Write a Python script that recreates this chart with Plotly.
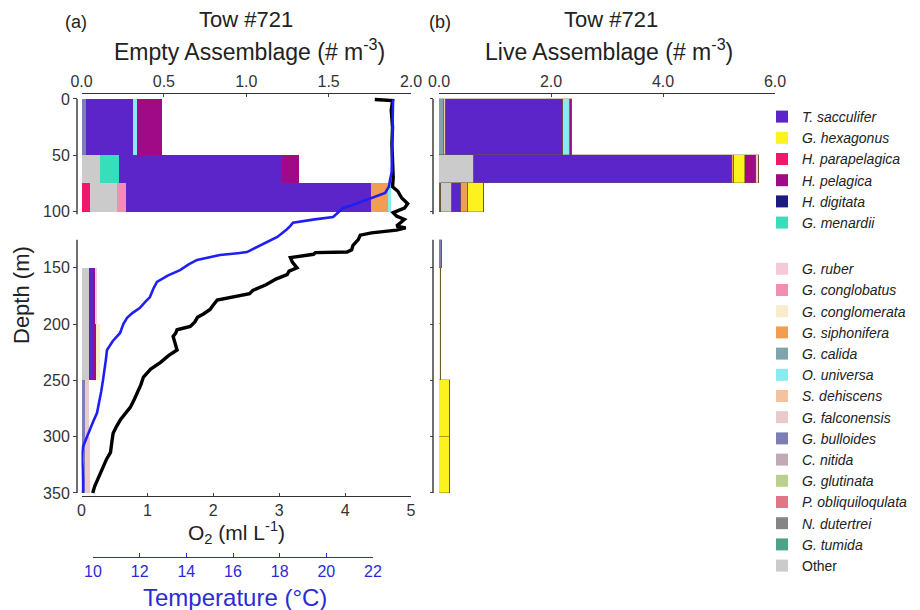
import plotly.graph_objects as go

W, H = 920, 610
OFF = 8  # page offset of the figure inside the browser window
FONT = "Liberation Sans, Arial, sans-serif"


def px(x):
    return (x - OFF) / W


def py(y):
    return 1 - (y - OFF) / H


# ---------------- data ----------------
# depth intervals (m): 0-50, 50-75, 75-100, 125-150, 150-200, 200-250, 250-300, 300-350
depth_mid = [25, 62.5, 87.5, 137.5, 175, 225, 275, 325]
depth_thick = [50, 25, 25, 25, 50, 50, 50, 50]
depth_ticks = [0, 50, 100, 150, 200, 250, 300, 350]

# stacking order (left to right within each bar)
species = ["H. parapelagica", "G. bulloides", "G. calida", "S. dehiscens", "Other",
           "G. menardii", "G. conglobatus", "T. sacculifer", "G. siphonifera",
           "O. universa", "G. hexagonus", "H. pelagica", "G. ruber", "G. conglomerata",
           "G. falconensis", "H. digitata", "C. nitida", "G. glutinata",
           "P. obliquiloqulata", "N. dutertrei", "G. tumida"]

colors = {
    "T. sacculifer": "#5b25c9", "G. hexagonus": "#fbf21e", "H. parapelagica": "#f3176b",
    "H. pelagica": "#a00a86", "H. digitata": "#1c1c7e", "G. menardii": "#36dfb9",
    "G. ruber": "#f6c9d9", "G. conglobatus": "#f28db3", "G. conglomerata": "#f8ecca",
    "G. siphonifera": "#f29d52", "G. calida": "#7fa4ad", "O. universa": "#86ecf2",
    "S. dehiscens": "#f4c29d", "G. falconensis": "#e9caca", "G. bulloides": "#7b7fb6",
    "C. nitida": "#c2a9b6", "G. glutinata": "#bccf8e", "P. obliquiloqulata": "#e07585",
    "N. dutertrei": "#858585", "G. tumida": "#50a189", "Other": "#cbcbcb",
}

legend_group1 = ["T. sacculifer", "G. hexagonus", "H. parapelagica", "H. pelagica",
                 "H. digitata", "G. menardii"]
legend_group2 = ["G. ruber", "G. conglobatus", "G. conglomerata", "G. siphonifera",
                 "G. calida", "O. universa", "S. dehiscens", "G. falconensis",
                 "G. bulloides", "C. nitida", "G. glutinata", "P. obliquiloqulata",
                 "N. dutertrei", "G. tumida", "Other"]

# Empty assemblage (# m-3), per interval
empty_h_parapelagica = [0, 0, 0.05, 0, 0, 0, 0, 0]
empty_g_bulloides = [0.025, 0, 0, 0, 0, 0, 0.02, 0.02]
empty_other = [0, 0.111, 0.162, 0, 0.045, 0.045, 0, 0]
empty_g_menardii = [0, 0.111, 0, 0, 0, 0, 0, 0]
empty_g_conglobatus = [0, 0, 0.055, 0, 0, 0, 0, 0]
empty_t_sacculifer = [0.285, 0.99, 1.49, 0, 0.02, 0.02, 0, 0]
empty_g_siphonifera = [0, 0, 0.10, 0, 0, 0, 0, 0]
empty_o_universa = [0.026, 0, 0.02, 0, 0, 0, 0, 0]
empty_h_pelagica = [0.148, 0.107, 0, 0, 0.017, 0.017, 0, 0]
empty_g_ruber = [0, 0, 0, 0, 0.008, 0, 0, 0]
empty_g_conglomerata = [0, 0, 0, 0, 0, 0.028, 0, 0]
empty_g_falconensis = [0, 0, 0, 0, 0, 0, 0.02, 0.03]

# Live assemblage (# m-3), per interval
live_h_parapelagica = [0, 0, 0.04, 0, 0, 0, 0, 0]
live_g_bulloides = [0, 0, 0, 0.05, 0, 0, 0, 0]
live_g_calida = [0.09, 0, 0, 0, 0, 0, 0, 0]
live_s_dehiscens = [0.04, 0, 0, 0, 0, 0, 0, 0]
live_other = [0, 0.63, 0.2, 0, 0, 0, 0, 0]
live_t_sacculifer = [2.08, 4.60, 0.16, 0, 0, 0, 0, 0]
live_g_siphonifera = [0, 0.03, 0.11, 0, 0, 0, 0, 0]
live_o_universa = [0.13, 0, 0, 0, 0, 0, 0, 0]
live_g_hexagonus = [0, 0.2, 0.3, 0, 0, 0, 0.2, 0.2]
live_h_pelagica = [0.035, 0.2, 0, 0, 0, 0, 0, 0]
live_g_ruber = [0, 0.055, 0, 0, 0, 0, 0, 0]
live_g_conglomerata = [0, 0, 0, 0, 0.03, 0.03, 0, 0]

zeros = [0] * len(depth_mid)
empty_values = {
    "H. parapelagica": empty_h_parapelagica, "G. bulloides": empty_g_bulloides,
    "Other": empty_other, "G. menardii": empty_g_menardii,
    "G. conglobatus": empty_g_conglobatus, "T. sacculifer": empty_t_sacculifer,
    "G. siphonifera": empty_g_siphonifera, "O. universa": empty_o_universa,
    "H. pelagica": empty_h_pelagica, "G. ruber": empty_g_ruber,
    "G. conglomerata": empty_g_conglomerata, "G. falconensis": empty_g_falconensis,
}
live_values = {
    "H. parapelagica": live_h_parapelagica, "G. bulloides": live_g_bulloides,
    "G. calida": live_g_calida, "S. dehiscens": live_s_dehiscens, "Other": live_other,
    "T. sacculifer": live_t_sacculifer, "G. siphonifera": live_g_siphonifera,
    "O. universa": live_o_universa, "G. hexagonus": live_g_hexagonus,
    "H. pelagica": live_h_pelagica, "G. ruber": live_g_ruber,
    "G. conglomerata": live_g_conglomerata,
}

# Oxygen profile (ml L-1)
o2_depth = [0.5, 1.5, 10, 25, 40, 55, 70, 78, 82, 88, 93, 97, 101, 104, 107, 110, 113,
            114.5, 116.5, 119, 121, 125, 130, 134, 136, 136.5, 138, 141, 145, 150, 153,
            156, 160, 165, 170, 173, 176, 178.6, 183, 187, 191, 194, 198, 202, 205, 208,
            211, 216, 223, 228, 234, 240, 247, 254, 261, 267, 274, 280, 285, 291, 297,
            305, 314, 320, 327, 333, 338, 344, 350]
o2_value = [4.45, 4.72, 4.70, 4.72, 4.71, 4.72, 4.73, 4.72, 4.80, 4.86, 4.95, 4.90, 4.73,
            4.78, 4.90, 4.84, 4.78, 4.92, 4.78, 4.40, 4.23, 4.20, 4.12, 4.10, 4.03, 3.55,
            3.52, 3.17, 3.20, 3.27, 3.15, 3.12, 2.95, 2.80, 2.60, 2.55, 2.30, 2.06, 2.00,
            1.95, 1.85, 1.76, 1.72, 1.65, 1.45, 1.43, 1.39, 1.42, 1.45, 1.32, 1.20, 1.05,
            0.94, 0.90, 0.85, 0.80, 0.74, 0.66, 0.59, 0.53, 0.48, 0.46, 0.44, 0.38, 0.33,
            0.28, 0.24, 0.20, 0.17]

# Temperature profile (deg C)
temp_depth = [0.5, 10, 30, 50, 65, 72, 78, 83.5, 86, 88, 90, 92.4, 94.5, 96.8, 100, 104.8,
              107, 110, 113, 116, 122.6, 128, 133, 136, 137, 138.6, 141, 143, 147, 152,
              157, 162.6, 168, 176, 180, 185.7, 190, 194.5, 200, 207.9, 215, 223, 232,
              241, 249.6, 260, 270, 279, 287, 294, 302, 309, 315, 321, 327, 332, 340, 347,
              350]
temp_value = [22.86, 22.85, 22.84, 22.83, 22.80, 22.73, 22.68, 22.52, 22.2, 22.0, 21.7,
              21.44, 21.1, 20.72, 20.55, 20.29, 19.5, 18.57, 18.45, 18.3, 17.9, 17.4, 16.9,
              16.6, 16.2, 15.44, 14.9, 14.46, 14.1, 13.73, 13.2, 12.74, 12.6, 12.44, 12.25,
              12.0, 11.7, 11.46, 11.3, 11.16, 10.85, 10.6, 10.55, 10.5, 10.43, 10.35, 10.25,
              10.17, 10.0, 9.87, 9.7, 9.57, 9.53, 9.52, 9.55, 9.57, 9.57, 9.57, 9.56]

empty_ticks = [0, 0.5, 1.0, 1.5, 2.0]
live_ticks = [0, 2, 4, 6]
o2_ticks = [0, 1, 2, 3, 4, 5]
temp_ticks = [10, 12, 14, 16, 18, 20, 22]

# ---------------- figure ----------------
fig = go.Figure()

rank = {}
for i, s in enumerate(legend_group1):
    rank[s] = 1 + i
for i, s in enumerate(legend_group2):
    rank[s] = 20 + i

for s in species:
    grp = "g1" if s in legend_group1 else "g2"
    label = s if s == "Other" else "<i>" + s + "</i>"
    fig.add_trace(go.Bar(
        y=depth_mid, x=empty_values.get(s, zeros), width=depth_thick, orientation="h",
        name=label, legendgroup=grp, legendrank=rank[s], showlegend=True,
        marker=dict(color=colors[s], line=dict(width=0)),
        xaxis="x", yaxis="y", hoverinfo="skip"))
    fig.add_trace(go.Bar(
        y=depth_mid, x=live_values.get(s, zeros), width=depth_thick, orientation="h",
        name=label, legendgroup=grp, legendrank=rank[s], showlegend=False,
        marker=dict(color=colors[s], line=dict(width=0.5, color="rgba(110,90,40,0.7)")),
        xaxis="x4", yaxis="y2", hoverinfo="skip"))

fig.add_trace(go.Scatter(x=o2_value, y=o2_depth, mode="lines",
                         line=dict(color="black", width=3.4), showlegend=False,
                         xaxis="x2", yaxis="y", hoverinfo="skip"))
fig.add_trace(go.Scatter(x=temp_value, y=temp_depth, mode="lines",
                         line=dict(color="#1f1ff5", width=2.6), showlegend=False,
                         xaxis="x3", yaxis="y", hoverinfo="skip"))
# carrier for the separate temperature scale
fig.add_trace(go.Scatter(x=temp_ticks, y=[None] * len(temp_ticks), mode="markers",
                         showlegend=False, xaxis="x5", yaxis="y", hoverinfo="skip"))

A_L, A_R = 81.5, 411
B_L, B_R = 439, 775
TOP, BOT = 94, 496
y_range = [352.7, -4.4]
T_L, T_R = 93, 373
t_per_px = (22 - 10) / (T_R - T_L)
temp_range = [10 - (T_L - A_L) * t_per_px, 22 + (A_R - T_R) * t_per_px]

tickfont = dict(family=FONT, size=16, color="#333333")
blue = "#2b2bd6"
dark = "#222222"

fig.update_layout(
    width=W, height=H, margin=dict(l=0, r=0, t=0, b=0, autoexpand=False),
    plot_bgcolor="rgba(0,0,0,0)", paper_bgcolor="white",
    barmode="stack", bargap=0,
    font=dict(family=FONT, color=dark),
    xaxis=dict(domain=[px(A_L), px(A_R)], range=[0, 2], side="top", anchor="y",
               tickvals=empty_ticks, tickformat=".1f", ticks="inside", ticklen=3,
               showline=True, linecolor="#333", linewidth=1.2, showgrid=False,
               zeroline=False, tickfont=tickfont, automargin=False),
    xaxis2=dict(overlaying="x", range=[0, 5], side="bottom", anchor="y",
                tickvals=o2_ticks, ticks="inside", ticklen=3, showline=True,
                linecolor="#333", linewidth=1.2, showgrid=False, zeroline=False,
                tickfont=tickfont, automargin=False),
    xaxis3=dict(overlaying="x", range=temp_range, visible=False),
    xaxis4=dict(domain=[px(B_L), px(B_R)], range=[0, 6], side="top", anchor="y2",
                tickvals=live_ticks, tickformat=".1f", ticks="inside", ticklen=3,
                showline=True, linecolor="#333", linewidth=1.2, showgrid=False,
                zeroline=False, tickfont=tickfont, automargin=False),
    xaxis5=dict(domain=[px(T_L), px(T_R)], range=[10, 22], anchor="free",
                position=py(557), side="bottom", tickvals=temp_ticks, ticks="inside",
                ticklen=4, showline=True, linecolor=blue, linewidth=1.2, tickcolor=blue,
                showgrid=False, zeroline=False, automargin=False,
                tickfont=dict(family=FONT, size=16, color=blue)),
    yaxis=dict(domain=[py(BOT), py(TOP)], range=y_range, anchor="free",
               position=px(77), tickvals=depth_ticks, ticks="outside", ticklen=4,
               showline=False, showgrid=False, zeroline=False, tickfont=tickfont,
               automargin=False),
    yaxis2=dict(domain=[py(BOT), py(TOP)], range=y_range, anchor="free",
                position=px(433), tickvals=depth_ticks, ticks="outside", ticklen=3,
                showticklabels=False, showline=False, showgrid=False, zeroline=False,
                automargin=False),
    legend=dict(x=px(762), y=py(101), xanchor="left", yanchor="top",
                traceorder="grouped", tracegroupgap=25, bgcolor="rgba(0,0,0,0)",
                font=dict(family=FONT, size=14, color=dark)),
)

# broken depth axis lines
for xpos in (77, 433):
    for seg in ((0, 102.5), (125, 350)):
        fig.add_shape(type="line", xref="paper", yref="y", x0=px(xpos), x1=px(xpos),
                      y0=seg[0], y1=seg[1], line=dict(color="#333", width=1.4))

texts = [
    (76, 22, "(a)", 18, dark, 0),
    (246, 20, "Tow #721", 22, dark, 0),
    (250, 50, "Empty Assemblage (# m<sup>-3</sup>)", 23, dark, 0),
    (440, 22, "(b)", 18, dark, 0),
    (611, 20, "Tow #721", 22, dark, 0),
    (609, 50, "Live Assemblage (# m<sup>-3</sup>)", 23, dark, 0),
    (236, 532, "O<sub>2</sub> (ml L<sup>-1</sup>)", 21, dark, 0),
    (235, 597, "Temperature (°C)", 24, blue, 0),
    (22, 295, "Depth (m)", 22, dark, -90),
]
for x, y, text, size, col, ang in texts:
    fig.add_annotation(x=px(x), y=py(y), xref="paper", yref="paper", text=text,
                       showarrow=False, xanchor="center", yanchor="middle",
                       textangle=ang, font=dict(family=FONT, size=size, color=col))

fig.write_html("out.html")
